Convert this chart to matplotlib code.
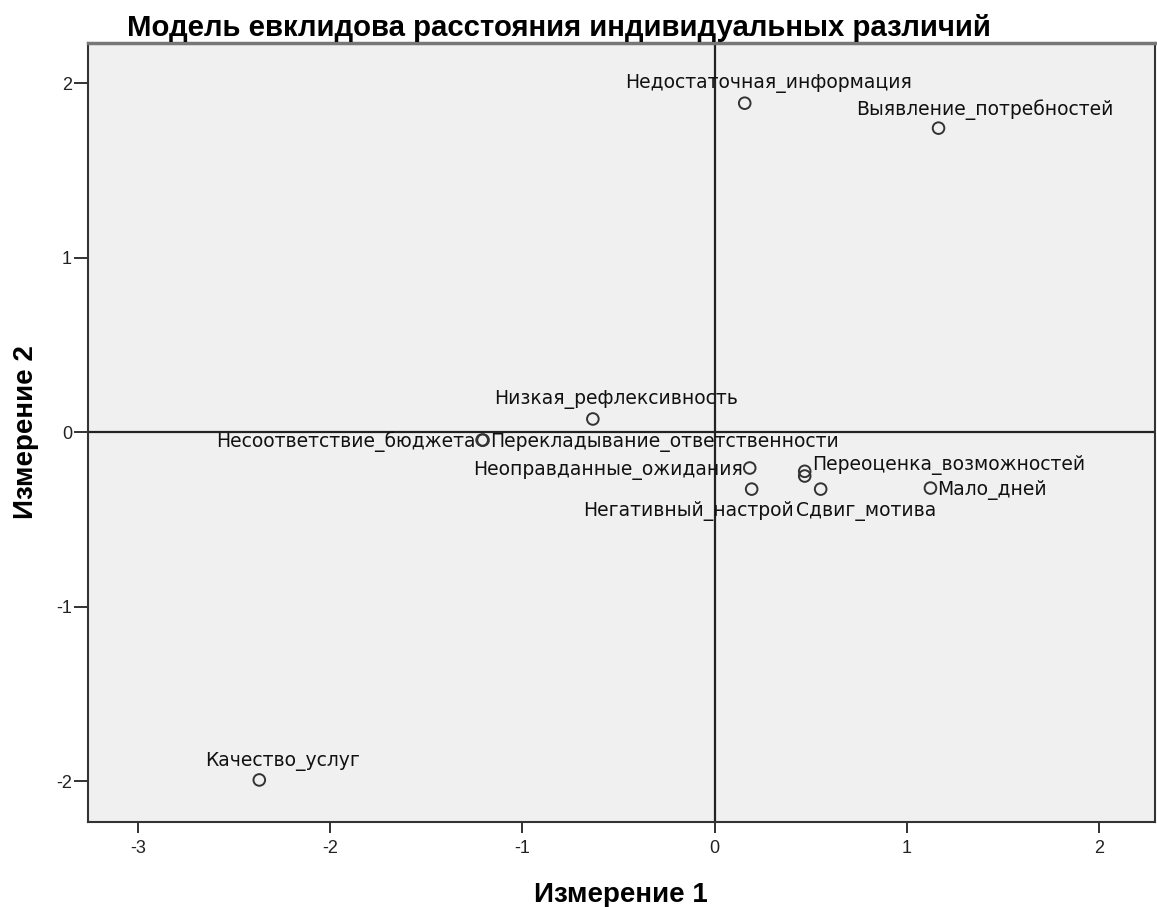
import matplotlib
matplotlib.use("Agg")
import matplotlib.pyplot as plt

plt.rcParams['font.family'] = ['Liberation Sans', 'DejaVu Sans']

# ---- data ----
names = ["Недостаточная_информация", "Выявление_потребностей", "Низкая_рефлексивность",
         "Несоответствие_бюджета", "Перекладывание_ответственности", "Неоправданные_ожидания",
         "Переоценка_возможностей", "", "Негативный_настрой", "Сдвиг_мотива",
         "Мало_дней", "Качество_услуг"]
dim1 = [0.156, 1.164, -0.634, -1.210, -1.205, 0.182, 0.468, 0.468, 0.192, 0.551, 1.122, -2.369]
dim2 = [1.885, 1.742, 0.075, -0.046, -0.046, -0.206, -0.225, -0.252, -0.327, -0.327, -0.321, -1.994]
xticks = [-3, -2, -1, 0, 1, 2]
yticks = [-2, -1, 0, 1, 2]
title = "Модель евклидова расстояния индивидуальных различий"
xlabel = "Измерение 1"
ylabel = "Измерение 2"

# label placement (pixel offsets of baseline, alignment) - styling
label_style = {
    "Недостаточная_информация": (24, 15, 'center'),
    "Выявление_потребностей": (46, 13, 'center'),
    "Низкая_рефлексивность": (23, 15, 'center'),
    "Несоответствие_бюджета": (-6, -7, 'right'),
    "Перекладывание_ответственности": (7, -7, 'left'),
    "Неоправданные_ожидания": (-7, -7, 'right'),
    "Переоценка_возможностей": (7, 1, 'left'),
    "Негативный_настрой": (-63, -27, 'center'),
    "Сдвиг_мотива": (45, -27, 'center'),
    "Мало_дней": (7, -7, 'left'),
    "Качество_услуг": (23, 14, 'center'),
}

W, H = 1157, 907
fig = plt.figure(figsize=(W / 100, H / 100), dpi=100)
fig.patch.set_facecolor('white')
ax = fig.add_axes([88 / W, 1 - 822 / H, (1155 - 88) / W, (822 - 43) / H])
ax.set_facecolor('#f0f0f0')

ax.axhline(0, color='#222222', lw=1.6, zorder=1)
ax.axvline(0, color='#222222', lw=1.6, zorder=1)

ax.scatter(dim1, dim2, s=70, facecolors='none', edgecolors='#333333', linewidths=1.4, zorder=3)

for n, x, y in zip(names, dim1, dim2):
    if not n:
        continue
    dx, dy, ha = label_style[n]
    ax.annotate(n, (x, y), xytext=(dx, dy), textcoords='offset pixels',
                ha=ha, va='baseline', fontsize=13.5, color='#111111',
                family='DejaVu Sans', zorder=4)

ax.set_xlim(-3.26, 2.29)
ax.set_ylim(-2.235, 2.23)
ax.set_xticks(xticks)
ax.set_yticks(yticks)
ax.set_xticklabels([str(t) for t in xticks])
ax.set_yticklabels([str(t) for t in yticks])
ax.tick_params(direction='out', width=1.3, colors='#222222', labelsize=13)
ax.tick_params(axis='x', length=8, pad=5)
ax.tick_params(axis='y', length=10, pad=1.5)
for s in ax.spines.values():
    s.set_color('#333333')
    s.set_linewidth(1.5)
ax.spines['top'].set_color('#777777')
ax.spines['top'].set_linewidth(2.5)

fig.text(621 / W, 1 - 902 / H, xlabel, ha='center', va='baseline', fontsize=20, fontweight='bold')
fig.text(33 / W, 1 - 432 / H, ylabel, ha='center', va='baseline', rotation=90,
         rotation_mode='anchor', fontsize=20, fontweight='bold')
fig.text(127 / W, 1 - 36 / H, title, ha='left', va='baseline', fontsize=21.2, fontweight='bold')

fig.savefig('out.png', dpi=100)
